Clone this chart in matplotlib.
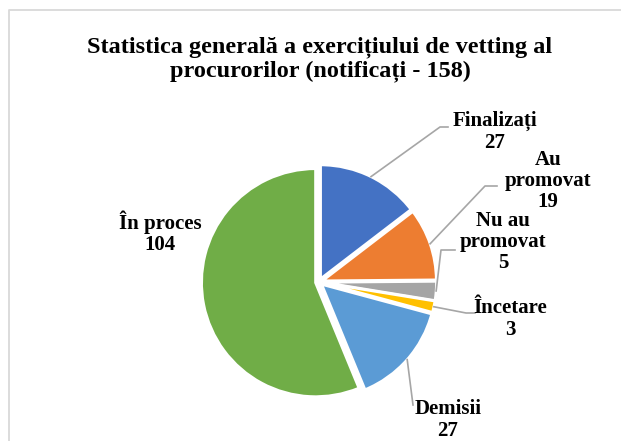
import numpy as np
import matplotlib
matplotlib.use("Agg")
import matplotlib.pyplot as plt

title = "Statistica generală a exercițiului de vetting al\nprocurorilor (notificați - 158)"
categories = ["Finalizați", "Au\npromovat", "Nu au\npromovat", "Încetare", "Demisii", "În proces"]
values = [27, 19, 5, 3, 27, 104]
colors = ["#4472C4", "#ED7D31", "#A5A5A5", "#FFC000", "#5B9BD5", "#70AD47"]

W, H = 621, 441
fig = plt.figure(figsize=(W / 100, H / 100), dpi=100)
ax = fig.add_axes([0, 0, 1, 1])
ax.set_xlim(0, W)
ax.set_ylim(0, H)
ax.set_aspect("equal")
ax.axis("off")

plt.rcParams["font.family"] = ["Liberation Serif", "DejaVu Serif"]

cx, cy, r = 319, H - 282, 114
wedges, _ = ax.pie(values, colors=colors, startangle=90, counterclock=False,
                   center=(cx, cy), radius=r, explode=[3.5] * len(values),
                   wedgeprops=dict(edgecolor="white", linewidth=2))
ax.set_xlim(0, W)
ax.set_ylim(0, H)

# frame
ax.plot([8.5, 8.5, W + 5], [-5, H - 9.5, H - 9.5], color="#D9D9D9", lw=1.3, clip_on=False)

fig.text(320 / W, 1 - 59 / H, title, ha="center", va="center", fontsize=17.5,
         fontweight="bold", linespacing=1.15)

# label positions (pixel coords, top-left origin) and leader elbows
label_pos = [(495, 132), (548, 181), (503, 242), (510, 319), (448, 420), (160, 233)]
elbows = [[(440, 127), (448, 127)], [(485, 186), (497, 186)], [(441, 250), (455, 250)],
          [(466, 313), (475, 313)], [(413, 405)], None]

for w, v, cat, (lx, ly), el in zip(wedges, values, categories, label_pos, elbows):
    ang = np.deg2rad((w.theta1 + w.theta2) / 2)
    wx, wy = w.center
    ax.text(lx, H - ly, f"{cat}\n{v}", ha="center", va="center", fontsize=15,
            fontweight="bold", linespacing=1.08)
    if el is not None:
        sx = wx + w.r * np.cos(ang)
        sy = wy + w.r * np.sin(ang)
        xs = [sx] + [p[0] for p in el]
        ys = [sy] + [H - p[1] for p in el]
        ax.plot(xs, ys, color="#A6A6A6", lw=1.2)

fig.savefig("out.png", dpi=100, facecolor="white")
